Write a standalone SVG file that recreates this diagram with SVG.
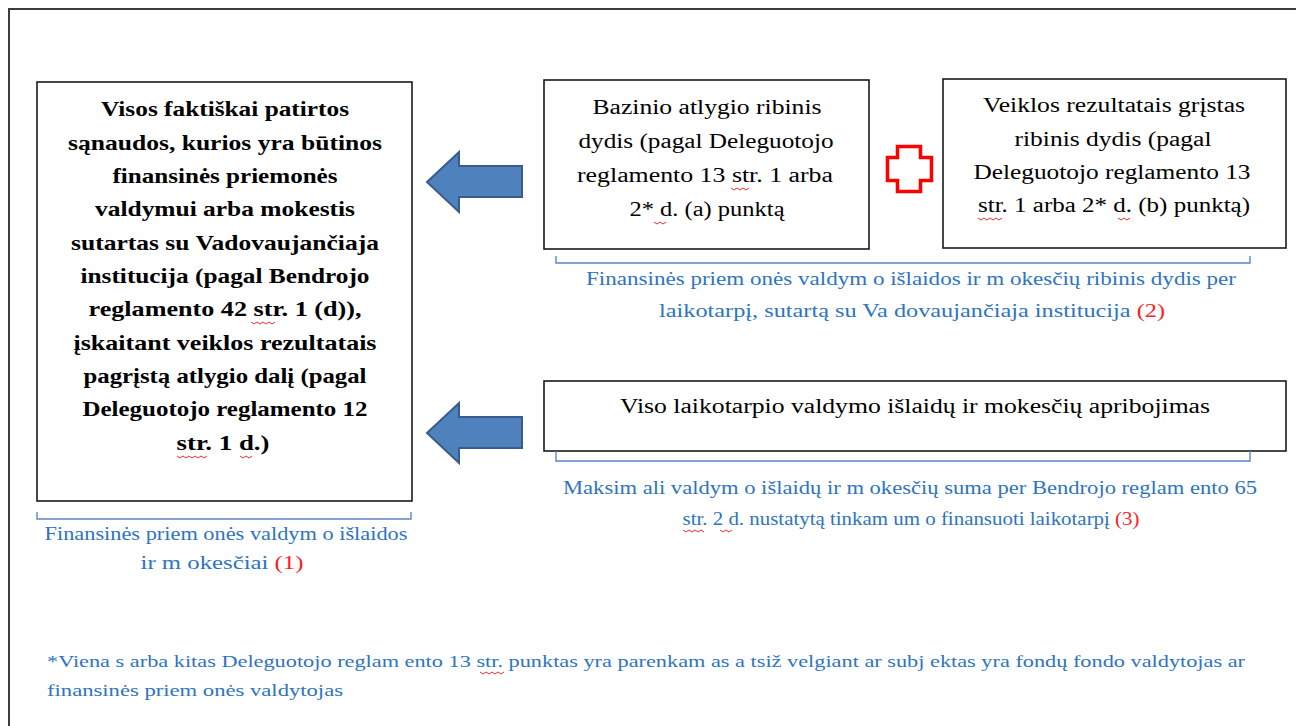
<svg xmlns="http://www.w3.org/2000/svg" width="1296" height="726" viewBox="0 0 1296 726">
<style>
.box{fill:#fff;stroke:#1a1a1a;stroke-width:1.6}
.frame{fill:none;stroke:#3c3c3c;stroke-width:2}
text{font-family:'Liberation Serif','Tinos','Noto Serif','DejaVu Serif','FreeSerif','Times New Roman',Times,serif}
.bt{font-size:21px;font-weight:bold;fill:#000;text-anchor:middle}
.rt{font-size:20.5px;fill:#000;text-anchor:middle}
.lbl{font-size:18px;fill:#2e74c0;text-anchor:middle}
.fn{font-size:17px;fill:#2e74c0}
.red{fill:#ff2020}
.brk{fill:none;stroke:#5b87c2;stroke-width:1.4}
.arrow{fill:#4f81bd;stroke:#385d8a;stroke-width:2}
.plus{fill:#fff;stroke:#ff0000;stroke-width:3.5}
.sq{fill:none;stroke:#e03030;stroke-width:1}
</style>
<rect x="0" y="0" width="1296" height="726" fill="#fff"/>
<path class="frame" d="M9,740 V9 H1310"/>

<g id="node-total">
<rect class="box" x="37" y="82" width="375" height="419"/>
<text class="bt" x="225" y="116" textLength="248" lengthAdjust="spacingAndGlyphs">Visos faktiškai patirtos</text>
<text class="bt" x="225" y="150" textLength="314" lengthAdjust="spacingAndGlyphs">sąnaudos, kurios yra būtinos</text>
<text class="bt" x="225" y="183" textLength="225" lengthAdjust="spacingAndGlyphs">finansinės priemonės</text>
<text class="bt" x="225" y="216" textLength="260" lengthAdjust="spacingAndGlyphs">valdymui arba mokestis</text>
<text class="bt" x="225" y="250" textLength="308" lengthAdjust="spacingAndGlyphs">sutartas su Vadovaujančiaja</text>
<text class="bt" x="225" y="283" textLength="289" lengthAdjust="spacingAndGlyphs">institucija (pagal Bendrojo</text>
<text class="bt" x="225" y="316" textLength="273" lengthAdjust="spacingAndGlyphs">reglamento 42 str. 1 (d)),</text>
<text class="bt" x="225" y="350" textLength="303" lengthAdjust="spacingAndGlyphs">įskaitant veiklos rezultatais</text>
<text class="bt" x="225" y="383" textLength="283" lengthAdjust="spacingAndGlyphs">pagrįstą atlygio dalį (pagal</text>
<text class="bt" x="225" y="416" textLength="285" lengthAdjust="spacingAndGlyphs">Deleguotojo reglamento 12</text>
<text class="bt" x="223" y="450" textLength="93" lengthAdjust="spacingAndGlyphs">str. 1 d.)</text>
</g>

<g id="node-base">
<rect class="box" x="544" y="80" width="325" height="169"/>
<text class="rt" x="707" y="114" textLength="229" lengthAdjust="spacingAndGlyphs">Bazinio atlygio ribinis</text>
<text class="rt" x="706" y="148" textLength="255" lengthAdjust="spacingAndGlyphs">dydis (pagal Deleguotojo</text>
<text class="rt" x="705" y="182" textLength="256" lengthAdjust="spacingAndGlyphs">reglamento 13 str. 1 arba</text>
<text class="rt" x="707" y="216" textLength="155" lengthAdjust="spacingAndGlyphs">2* d. (a) punktą</text>
</g>

<g id="node-plus">
<path class="plus" d="M897.5,146.5 H920.5 V157.5 H931.5 V180.5 H920.5 V191.5 H897.5 V180.5 H887.5 V157.5 H897.5 Z"/>
</g>

<g id="node-perf">
<rect class="box" x="943" y="79" width="343" height="169"/>
<text class="rt" x="1114" y="112" textLength="262" lengthAdjust="spacingAndGlyphs">Veiklos rezultatais grįstas</text>
<text class="rt" x="1113" y="146" textLength="197" lengthAdjust="spacingAndGlyphs">ribinis dydis (pagal</text>
<text class="rt" x="1112" y="179" textLength="277" lengthAdjust="spacingAndGlyphs">Deleguotojo reglamento 13</text>
<text class="rt" x="1114" y="212" textLength="272" lengthAdjust="spacingAndGlyphs">str. 1 arba 2* d. (b) punktą)</text>
</g>

<g id="node-limit">
<rect class="box" x="544" y="381" width="742" height="70"/>
<text class="rt" x="915" y="413" textLength="590" lengthAdjust="spacingAndGlyphs">Viso laikotarpio valdymo išlaidų ir mokesčių apribojimas</text>
</g>

<g id="label-1">
<path class="brk" d="M37,512 V519 H411 V512"/>
<text class="lbl" x="226" y="540" textLength="363" lengthAdjust="spacingAndGlyphs">Finansinės priem onės valdym o išlaidos</text>
<text class="lbl" x="222" y="569" textLength="163" lengthAdjust="spacingAndGlyphs">ir m okesčiai <tspan class="red">(1)</tspan></text>
</g>

<g id="label-2">
<path class="brk" d="M556,256 V263 H1250 V256"/>
<text class="lbl" x="911" y="285" textLength="650" lengthAdjust="spacingAndGlyphs">Finansinės priem onės valdym o išlaidos ir m okesčių ribinis dydis per</text>
<text class="lbl" x="912" y="317" textLength="506" lengthAdjust="spacingAndGlyphs">laikotarpį, sutartą su Va dovaujančiaja institucija <tspan class="red">(2)</tspan></text>
</g>

<g id="label-3">
<path class="brk" d="M556,451 V461 H1250 V451"/>
<text class="lbl" x="910" y="494" textLength="694" lengthAdjust="spacingAndGlyphs">Maksim ali valdym o išlaidų ir m okesčių suma per Bendrojo reglam ento 65</text>
<text class="lbl" x="911" y="525" textLength="457" lengthAdjust="spacingAndGlyphs">str. 2 d. nustatytą tinkam um o finansuoti laikotarpį <tspan class="red">(3)</tspan></text>
</g>

<g id="footnote">
<text class="fn" x="47" y="667" textLength="1198" lengthAdjust="spacingAndGlyphs">*Viena s arba kitas Deleguotojo reglam ento 13 str. punktas yra parenkam as a tsiž velgiant ar subj ektas yra fondų fondo valdytojas ar</text>
<text class="fn" x="47" y="696" textLength="296" lengthAdjust="spacingAndGlyphs">finansinės priem onės valdytojas</text>
</g>

<g id="connectors">
<polygon class="arrow" points="427,182 459,152 459,166 522,166 522,197 459,197 459,212"/>
<polygon class="arrow" points="427,433 459,403 459,417 522,417 522,448 459,448 459,463"/>
</g>

<g id="spellmarks">
<path class="sq" d="M251,322 l3,2 l3,-2 l3,2 l3,-2 l3,2 l3,-2 l3,2 l3,-2"/>
<path class="sq" d="M177,456 l3,2 l3,-2 l3,2 l3,-2 l3,2 l3,-2 l3,2 l3,-2 l3,2 l3,-2"/>
<path class="sq" d="M240,456 l3,2 l3,-2 l3,2 l3,-2"/>
<path class="sq" d="M731,188 l3,2 l3,-2 l3,2 l3,-2 l3,2 l3,-2"/>
<path class="sq" d="M654,222 l3,2 l3,-2 l3,2 l3,-2"/>
<path class="sq" d="M978,218 l3,2 l3,-2 l3,2 l3,-2 l3,2 l3,-2 l3,2 l3,-2"/>
<path class="sq" d="M1118,218 l3,2 l3,-2 l3,2 l3,-2"/>
<path class="sq" d="M683,530 l3,2 l3,-2 l3,2 l3,-2 l3,2 l3,-2 l3,2"/>
<path class="sq" d="M720,530 l3,2 l3,-2 l3,2 l3,-2"/>
<path class="sq" d="M480,672 l3,2 l3,-2 l3,2 l3,-2 l3,2 l3,-2 l3,2 l3,-2"/>
</g>
</svg>
